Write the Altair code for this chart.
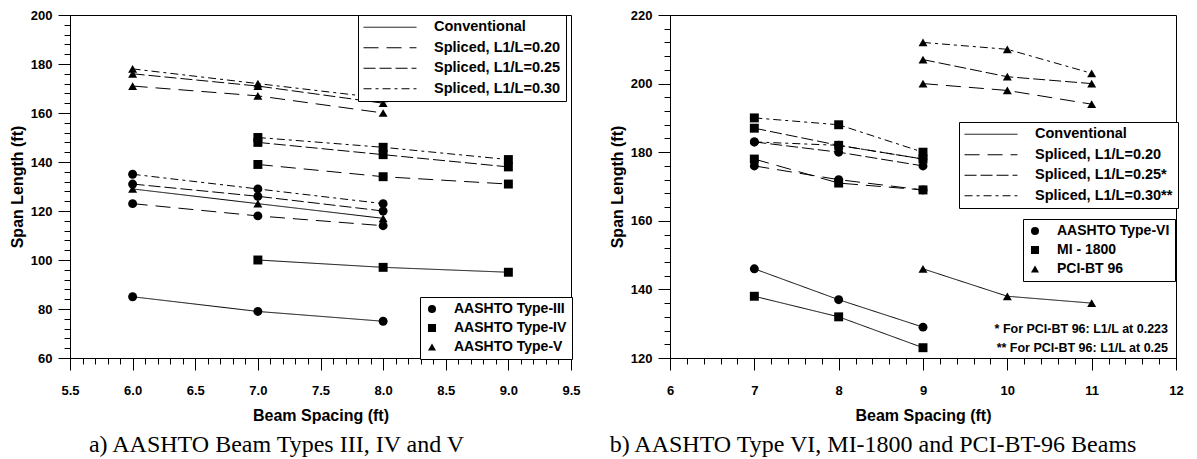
import altair as alt
import pandas as pd

# ---------------- Panel a) data ----------------
beams_a = ["AASHTO Type-III", "AASHTO Type-IV", "AASHTO Type-V"]
methods_a = ["Conventional", "Spliced, L1/L=0.20", "Spliced, L1/L=0.25", "Spliced, L1/L=0.30"]
spacing_III = [6.0, 7.0, 8.0]
spacing_IV = [7.0, 8.0, 9.0]
spacing_V = [6.0, 7.0, 8.0]
III_conv = [85, 79, 75]
III_020 = [123, 118, 114]
III_025 = [131, 126, 120]
III_030 = [135, 129, 123]
IV_conv = [100, 97, 95]
IV_020 = [139, 134, 131]
IV_025 = [148, 143, 138]
IV_030 = [150, 146, 141]
V_conv = [129, 123, 117]
V_020 = [171, 167, 160]
V_025 = [176, 171, 164]
V_030 = [178, 172, 166]

# ---------------- Panel b) data ----------------
beams_b = ["AASHTO Type-VI", "MI - 1800", "PCI-BT 96"]
methods_b = ["Conventional", "Spliced, L1/L=0.20", "Spliced, L1/L=0.25*", "Spliced, L1/L=0.30**"]
spacing_VI = [7, 8, 9]
spacing_MI = [7, 8, 9]
spacing_PCI = [9, 10, 11]
VI_conv = [146, 137, 129]
VI_020 = [176, 172, 169]
VI_025 = [183, 180, 176]
VI_030 = [183, 182, 178]
MI_conv = [138, 132, 123]
MI_020 = [178, 171, 169]
MI_025 = [187, 182, 178]
MI_030 = [190, 188, 180]
PCI_conv = [146, 138, 136]
PCI_020 = [200, 198, 194]
PCI_025 = [207, 202, 200]
PCI_030 = [212, 210, 203]

note_1 = "* For PCI-BT 96: L1/L at 0.223"
note_2 = "** For PCI-BT 96: L1/L at 0.25"

caption_a = "a) AASHTO Beam Types III, IV and V"
caption_b = "b) AASHTO Type VI, MI-1800 and PCI-BT-96 Beams"

SANS = "Liberation Sans"
SERIF = "Liberation Serif"
DASHES = [[1, 0], [15, 8], [12, 4], [8, 4, 3, 4]]
SHAPES = ["circle", "square", "triangle-up"]


def build(beams, spacings, series, methods):
    rows = []
    for b, xs, ser in zip(beams, spacings, series):
        for m, ys in zip(methods, ser):
            for x, y in zip(xs, ys):
                rows.append({"beam": b, "method": m, "x": x, "y": y})
    return pd.DataFrame(rows)


df_a = build(beams_a, [spacing_III, spacing_IV, spacing_V],
             [[III_conv, III_020, III_025, III_030],
              [IV_conv, IV_020, IV_025, IV_030],
              [V_conv, V_020, V_025, V_030]], methods_a)
df_b = build(beams_b, [spacing_VI, spacing_MI, spacing_PCI],
             [[VI_conv, VI_020, VI_025, VI_030],
              [MI_conv, MI_020, MI_025, MI_030],
              [PCI_conv, PCI_020, PCI_025, PCI_030]], methods_b)

AX = dict(labelFont=SANS, labelFontWeight="bold", labelFontSize=13, labelColor="black",
          titleFont=SANS, titleFontWeight="bold", titleFontSize=16, titleColor="black",
          domainColor="black", domainWidth=1, tickColor="black", tickWidth=1, grid=False)


def panel(df, beams, methods, xdom, ydom, xmaj, xmin, ymaj, ymin, xfmt, w, h,
          leg1, leg2, caption, cdx, notes=None):
    xs = alt.Scale(domain=xdom, nice=False, zero=False)
    ys = alt.Scale(domain=ydom, nice=False, zero=False)
    xaxis = alt.Axis(values=xmaj, format=xfmt, title="Beam Spacing (ft)", tickSize=12,
                     labelPadding=14, titlePadding=10, orient="bottom", labelFlush=False, **AX)
    yaxis = alt.Axis(values=ymaj, title="Span Length (ft)", tickSize=12,
                     labelPadding=6, titlePadding=5, orient="left", labelFlush=False, **AX)
    xaxis_min = alt.Axis(values=xmin, labels=False, tickSize=6, domain=False,
                         title=None, orient="bottom", tickColor="black", grid=False)
    yaxis_min = alt.Axis(values=ymin, labels=False, tickSize=6, domain=False,
                         title=None, orient="left", tickColor="black", grid=False)

    lines = alt.Chart(df).mark_line(color="black", strokeWidth=1).encode(
        x=alt.X("x:Q", scale=xs, axis=xaxis),
        y=alt.Y("y:Q", scale=ys, axis=yaxis),
        strokeDash=alt.StrokeDash(
            "method:N",
            scale=alt.Scale(domain=methods, range=DASHES),
            legend=alt.Legend(
                title=None, orient="none", legendX=leg1[0], legendY=leg1[1],
                strokeColor="black", fillColor="white", padding=5, cornerRadius=0,
                symbolType="stroke", symbolSize=2800, symbolStrokeWidth=1,
                symbolStrokeColor="black", labelFont=SANS, labelFontSize=14.5,
                labelFontWeight="bold", labelColor="black", labelOffset=17,
                rowPadding=4.5, labelLimit=400, clipHeight=14.5,
            ),
        ),
        detail="beam:N",
    )
    points = alt.Chart(df).mark_point(filled=True, color="black", opacity=1, size=80).encode(
        x=alt.X("x:Q", scale=xs, axis=None),
        y=alt.Y("y:Q", scale=ys, axis=None),
        shape=alt.Shape(
            "beam:N",
            scale=alt.Scale(domain=beams, range=SHAPES),
            legend=alt.Legend(
                title=None, orient="none", legendX=leg2[0], legendY=leg2[1],
                strokeColor="black", fillColor="white", padding=5, cornerRadius=0,
                symbolSize=65, symbolFillColor="black", symbolStrokeColor="black",
                labelFont=SANS, labelFontSize=14, labelFontWeight="bold",
                labelColor="black", labelOffset=15, rowPadding=5, labelLimit=400,
                clipHeight=14,
            ),
        ),
    )
    minor = alt.Chart(df).mark_point(opacity=0).encode(
        x=alt.X("x:Q", scale=xs, axis=xaxis_min),
        y=alt.Y("y:Q", scale=ys, axis=yaxis_min),
    )
    layers = [minor, lines, points]
    if notes:
        for txt, px, py in notes:
            layers.append(
                alt.Chart(pd.DataFrame({"t": [txt]})).mark_text(
                    align="right", baseline="middle", font=SANS, fontSize=12.5,
                    fontWeight="bold", color="black"
                ).encode(text="t:N", x=alt.value(px), y=alt.value(py))
            )
    return alt.layer(*layers).resolve_axis(x="independent", y="independent").properties(
        width=w, height=h,
        title=alt.TitleParams(text=caption, orient="bottom", anchor="middle", font=SERIF,
                              fontSize=24, fontWeight="normal", color="black",
                              offset=10, dx=cdx),
    )


xmaj_a = [5.5, 6.0, 6.5, 7.0, 7.5, 8.0, 8.5, 9.0, 9.5]
xmin_a = [round(5.5 + 0.1 * i, 1) for i in range(41)]
ymaj_a = [60, 80, 100, 120, 140, 160, 180, 200]
ymin_a = list(range(60, 201, 4))

xmaj_b = [6, 7, 8, 9, 10, 11, 12]
xmin_b = [round(6 + 0.2 * i, 1) for i in range(31)]
ymaj_b = [120, 140, 160, 180, 200, 220]
ymin_b = list(range(120, 221, 4))

left = panel(df_a, beams_a, methods_a, [5.5, 9.5], [60, 200], xmaj_a, xmin_a, ymaj_a, ymin_a,
             ".1f", 501, 343, (288, 0), (350, 282), caption_a, -44)
right = panel(df_b, beams_b, methods_b, [6, 12], [120, 220], xmaj_b, xmin_b, ymaj_b, ymin_b,
              "d", 506, 343, (289, 107), (353, 204), caption_b, -50,
              notes=[(note_1, 498, 314), (note_2, 498, 333)])

chart = alt.hconcat(left, right, spacing=99, bounds="flush").resolve_scale(
    strokeDash="independent", shape="independent"
).resolve_legend(strokeDash="independent", shape="independent").properties(
    padding={"left": 0, "top": 0, "right": 0, "bottom": 0}, background="white"
).configure_view(
    stroke="black", strokeWidth=1
)

chart.save("out.html", embed_options={"renderer": "svg", "actions": False})
